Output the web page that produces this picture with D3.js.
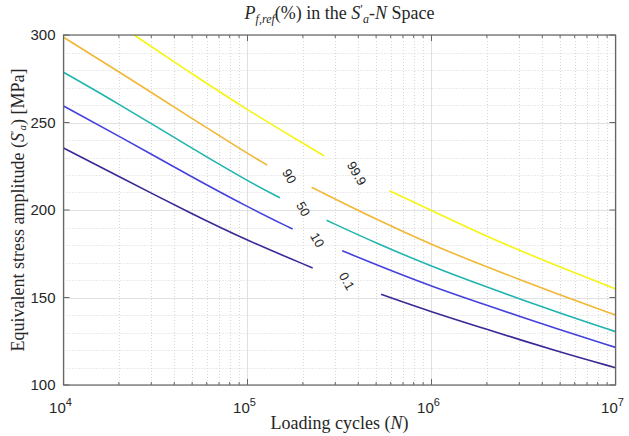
<!DOCTYPE html>
<html>
<head>
<meta charset="utf-8">
<script src="https://cdn.jsdelivr.net/npm/d3@7"></script>
<style>
  body { margin: 0; background: #fff; }
  .tick-label { font-family: "Liberation Sans", Arial, sans-serif; font-size: 15px; fill: #262626; }
  .serif { font-family: "Liberation Serif", "Times New Roman", serif; fill: #262626; }
  .clabel { font-family: "Liberation Sans", Arial, sans-serif; font-size: 13px; fill: #262626; }
</style>
</head>
<body>
<div id="chart"></div>
<script>
// contour levels (failure probability, %)
var levels = [0.1, 10, 50, 90, 99.9];
var levelLabels = ["0.1", "10", "50", "90", "99.9"];
var levelColors = ["#382a96", "#4541dc", "#1fb5ae", "#f2b734", "#f5f514"];

// [N, S'a], null = gap where the label sits
var curve01 = [[1e4,235.4],[2e4,219.1],[5e4,197.7],[1e5,182.5],[2.26e5,166.9],null,
               [5.32e5,151.8],[1e6,141.7],[2e6,131.8],[5e6,118.7],[1e7,109.9]];
var curve10 = [[1e4,259.4],[2e4,242.3],[5e4,218.8],[1e5,201.8],[1.76e5,189.1],null,
               [3.27e5,176.7],[5e5,168.7],[1e6,156.3],[2e6,145.5],[5e6,131.5],[1e7,121.5]];
var curve50 = [[1e4,278.7],[2e4,260.6],[5e4,235.2],[1e5,216.6],[1.5e5,207.0],null,
               [2.69e5,194.1],[5e5,181.0],[1e6,167.8],[2e6,155.9],[5e6,141.0],[1e7,130.5]];
var curve90 = [[1e4,298.7],[2e4,279.1],[5e4,252.2],[1e5,232.3],[1.28e5,225.7],null,
               [2.23e5,213.0],[5e5,194.6],[1e6,180.2],[2e6,167.4],[5e6,151.4],[1e7,140.0]];
var curve999 = [[2.42e4,300],[5e4,277.7],[1e5,257.1],[2e5,238.2],[2.61e5,230.9],null,
                [5.9e5,211.0],[1e6,199.8],[2e6,184.7],[5e6,167.3],[1e7,154.9]];
var curves = [curve01, curve10, curve50, curve90, curve999];

var xMajor = [1e4, 1e5, 1e6, 1e7];
var xExp = ["4", "5", "6", "7"];
var yMajor = [100, 150, 200, 250, 300];

var width = 629, height = 436;
var pLeft = 63.5, pRight = 615.5, pTop = 35, pBottom = 385;

var svg = d3.select("#chart").append("svg")
    .attr("width", width)
    .attr("height", height);

var x = d3.scaleLog().domain([1e4, 1e7]).range([pLeft, pRight]);
var y = d3.scaleLinear().domain([100, 300]).range([pBottom, pTop]);

//minor x values 2..9 per decade
var xMinor = [];
[1e4, 1e5, 1e6].forEach(function (d) {
  for (var k = 2; k <= 9; k++) xMinor.push(d * k);
});
var yMinor = d3.range(110, 300, 10).filter(function (v) { return v % 50 != 0; });

// grid
var grid = svg.append("g");
grid.selectAll(".xminor").data(xMinor).enter().append("line")
    .attr("x1", function (d) { return Math.round(x(d)) + 0.5; })
    .attr("x2", function (d) { return Math.round(x(d)) + 0.5; })
    .attr("y1", pTop).attr("y2", pBottom)
    .attr("stroke", "#d6d6d6").attr("stroke-dasharray", "1,2");
grid.selectAll(".yminor").data(yMinor).enter().append("line")
    .attr("y1", function (d) { return Math.round(y(d)) + 0.5; })
    .attr("y2", function (d) { return Math.round(y(d)) + 0.5; })
    .attr("x1", pLeft).attr("x2", pRight)
    .attr("stroke", "#d6d6d6").attr("stroke-dasharray", "1,2");
grid.selectAll(".xmajor").data(xMajor).enter().append("line")
    .attr("x1", function (d) { return Math.round(x(d)) + 0.5; })
    .attr("x2", function (d) { return Math.round(x(d)) + 0.5; })
    .attr("y1", pTop).attr("y2", pBottom)
    .attr("stroke", "#e0e0e0");
grid.selectAll(".ymajor").data(yMajor).enter().append("line")
    .attr("y1", function (d) { return Math.round(y(d)) + 0.5; })
    .attr("y2", function (d) { return Math.round(y(d)) + 0.5; })
    .attr("x1", pLeft).attr("x2", pRight)
    .attr("stroke", "#e0e0e0");

// contour lines
var line = d3.line()
    .defined(function (d) { return d !== null; })
    .x(function (d) { return x(d[0]); })
    .y(function (d) { return y(d[1]); })
    .curve(d3.curveBasis);

svg.append("g").selectAll("path")
    .data(curves)
    .enter().append("path")
    .attr("d", line)
    .attr("fill", "none")
    .attr("stroke", function (d, i) { return levelColors[i]; })
    .attr("stroke-width", 1.6);

// labels in the middle of each gap
svg.append("g").selectAll("text")
    .data(curves)
    .enter().append("text")
    .attr("class", "clabel")
    .attr("transform", function (d) {
      var g = d.indexOf(null);
      var a = d[g - 1], b = d[g + 1];
      var cx = (x(a[0]) + x(b[0])) / 2, cy = (y(a[1]) + y(b[1])) / 2;
      return "translate(" + cx + "," + cy + ") rotate(60)";
    })
    .attr("text-anchor", "middle")
    .attr("dy", "0.35em")
    .text(function (d, i) { return levelLabels[i]; });

// axes box and ticks
var ax = svg.append("g").attr("stroke", "#666").attr("fill", "none");
ax.append("rect")
    .attr("x", pLeft).attr("y", pTop)
    .attr("width", pRight - pLeft).attr("height", pBottom - pTop)
    .attr("stroke-width", 1.2);
xMajor.forEach(function (d) {
  var px = x(d);
  ax.append("line").attr("x1", px).attr("x2", px).attr("y1", pBottom).attr("y2", pBottom - 6);
  ax.append("line").attr("x1", px).attr("x2", px).attr("y1", pTop).attr("y2", pTop + 6);
});
xMinor.forEach(function (d) {
  var px = x(d);
  ax.append("line").attr("x1", px).attr("x2", px).attr("y1", pBottom).attr("y2", pBottom - 3);
  ax.append("line").attr("x1", px).attr("x2", px).attr("y1", pTop).attr("y2", pTop + 3);
});
yMajor.forEach(function (d) {
  var py = y(d);
  ax.append("line").attr("y1", py).attr("y2", py).attr("x1", pLeft).attr("x2", pLeft + 6);
  ax.append("line").attr("y1", py).attr("y2", py).attr("x1", pRight).attr("x2", pRight - 6);
});

// tick labels
svg.append("g").selectAll("text")
    .data(yMajor)
    .enter().append("text")
    .attr("class", "tick-label")
    .attr("x", pLeft - 8)
    .attr("y", function (d) { return y(d); })
    .attr("dy", "0.35em")
    .attr("text-anchor", "end")
    .text(function (d) { return d; });

var xt = svg.append("g").selectAll("text")
    .data(xMajor)
    .enter().append("text")
    .attr("class", "tick-label")
    .attr("x", function (d) { return x(d) - 3; })
    .attr("y", 413)
    .attr("text-anchor", "middle");
xt.append("tspan").text("10");
xt.append("tspan").attr("dy", -7).style("font-size", "11px")
    .text(function (d, i) { return xExp[i]; });

// title
var title = svg.append("text").attr("class", "serif")
    .attr("x", (pLeft + pRight) / 2).attr("y", 19)
    .attr("text-anchor", "middle")
    .style("font-size", "18px");
title.append("tspan").style("font-style", "italic").text("P");
title.append("tspan").attr("dy", 4).style("font-size", "12px").style("font-style", "italic").text("f,ref");
title.append("tspan").attr("dy", -4).text("(%) in the ");
title.append("tspan").style("font-style", "italic").text("S");
title.append("tspan").attr("dy", -6).style("font-size", "12px").text("′");
title.append("tspan").attr("dy", 10).style("font-size", "12px").style("font-style", "italic").text("a");
title.append("tspan").attr("dy", -4).text("-");
title.append("tspan").style("font-style", "italic").text("N");
title.append("tspan").text(" Space");

// x label
var xl = svg.append("text").attr("class", "serif")
    .attr("x", (pLeft + pRight) / 2).attr("y", 429)
    .attr("text-anchor", "middle")
    .style("font-size", "18px");
xl.append("tspan").text("Loading cycles (");
xl.append("tspan").style("font-style", "italic").text("N");
xl.append("tspan").text(")");

// y label
var yl = svg.append("text").attr("class", "serif")
    .attr("transform", "translate(24," + ((pTop + pBottom) / 2) + ") rotate(-90)")
    .attr("text-anchor", "middle")
    .style("font-size", "18px");
yl.append("tspan").text("Equivalent stress amplitude (");
yl.append("tspan").style("font-style", "italic").text("S");
yl.append("tspan").attr("dy", -6).style("font-size", "11px").text("′");
yl.append("tspan").attr("dy", 8).style("font-size", "11px").style("font-style", "italic").text("a");
yl.append("tspan").attr("dy", -2).text(") [MPa]");
</script>
</body>
</html>
